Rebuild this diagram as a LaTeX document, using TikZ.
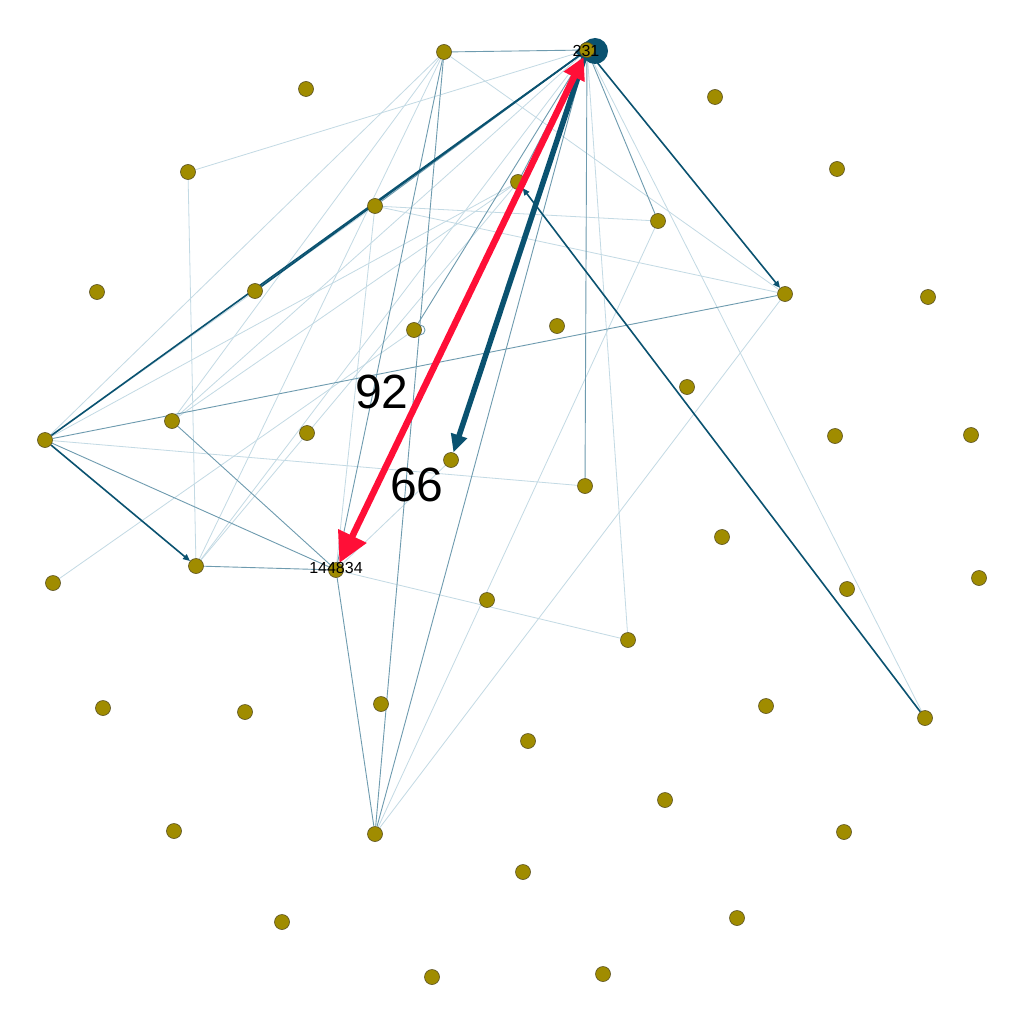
\documentclass[tikz,border=0pt]{standalone}
\usepackage{fontspec}
\setmainfont{Liberation Sans}
\usetikzlibrary{arrows.meta}
\pgfdeclarelayer{bg}
\pgfdeclarelayer{fg}
\pgfsetlayers{bg,main,fg}
\definecolor{dk}{RGB}{10,82,112}
\definecolor{md}{RGB}{110,155,175}
\definecolor{lt}{RGB}{195,218,228}
\definecolor{rd}{RGB}{255,15,55}
\definecolor{olive}{RGB}{160,140,0}
\definecolor{olivedk}{RGB}{90,80,30}
\tikzset{
  vtx/.style={circle,fill=olive,draw=olivedk,line width=0.6pt,minimum size=15pt,inner sep=0pt},
  dkedge/.style={draw=dk,line width=1.6pt},
  mdedge/.style={draw=md,line width=0.9pt},
  ltedge/.style={draw=lt,line width=0.8pt},
  smallarr/.style={-{Triangle[length=7pt,width=6pt]}},
  lbl/.style={font=\fontsize{16}{16}\selectfont,inner sep=0pt},
  biglbl/.style={font=\fontsize{48}{48}\selectfont,inner sep=0pt}
}
\begin{document}
\begin{tikzpicture}[x=1pt,y=-1pt]
\begin{pgfonlayer}{bg}
\fill[white] (0,0) rectangle (1024,1024);
\end{pgfonlayer}
\useasboundingbox (0,0) rectangle (1024,1024);
% nodes
\node[vtx] (A) at (587,50) {};
\node[vtx] (B) at (444,52) {};
\node[vtx] (C) at (306,89) {};
\node[vtx] (D) at (715,97) {};
\node[vtx] (E) at (188,172) {};
\node[vtx] (F) at (837,169) {};
\node[vtx] (G) at (518,182) {};
\node[vtx] (H) at (375,206) {};
\node[vtx] (I) at (658,221) {};
\node[vtx] (J) at (97,292) {};
\node[vtx] (K) at (255,291) {};
\node[vtx] (L) at (785,294) {};
\node[vtx] (M) at (928,297) {};
\node[vtx] (N) at (414,330) {};
\node[vtx] (O) at (557,326) {};
\node[vtx] (P) at (687,387) {};
\node[vtx] (Q) at (172,421) {};
\node[vtx] (R) at (307,433) {};
\node[vtx] (S) at (45,440) {};
\node[vtx] (T) at (835,436) {};
\node[vtx] (U) at (971,435) {};
\node[vtx] (V) at (451,460) {};
\node[vtx] (W) at (585,486) {};
\node[vtx] (X) at (722,537) {};
\node[vtx] (Y) at (196,566) {};
\node[vtx] (Z) at (336,570) {};
\node[vtx] (a) at (53,583) {};
\node[vtx] (b) at (847,589) {};
\node[vtx] (c) at (979,578) {};
\node[vtx] (d) at (487,600) {};
\node[vtx] (e) at (628,640) {};
\node[vtx] (f) at (103,708) {};
\node[vtx] (g) at (245,712) {};
\node[vtx] (h) at (381,704) {};
\node[vtx] (i) at (766,706) {};
\node[vtx] (j) at (925,718) {};
\node[vtx] (k) at (528,741) {};
\node[vtx] (l) at (665,800) {};
\node[vtx] (m) at (174,831) {};
\node[vtx] (n) at (375,834) {};
\node[vtx] (o) at (844,832) {};
\node[vtx] (p) at (523,872) {};
\node[vtx] (q) at (282,922) {};
\node[vtx] (r) at (737,918) {};
\node[vtx] (s) at (432,977) {};
\node[vtx] (t) at (603,974) {};
\begin{pgfonlayer}{bg}
% light edges
\path[ltedge] (E) -- (A);
\path[ltedge] (E) -- (Y);
\path[ltedge] (B) -- (L);
\path[ltedge] (B) -- (S);
\path[ltedge] (B) -- (Q);
\path[ltedge] (B) -- (Y);
\path[ltedge] (H) -- (I);
\path[ltedge] (H) -- (L);
\path[ltedge] (H) -- (Z);
\path[ltedge] (S) -- (G);
\path[ltedge] (S) -- (H);
\path[ltedge] (S) -- (W);
\path[ltedge] (Q) -- (G);
\path[ltedge] (Q) -- (A);
\path[ltedge] (G) -- (Y);
\path[ltedge] (V) -- (Z);
\path[ltedge] (Z) -- (e);
\path[ltedge] (e) -- (A);
\path[ltedge] (A) -- (j);
\path[ltedge] (n) -- (I);
\path[ltedge] (n) -- (L);
\path[ltedge] (a) -- (N);
\path[ltedge] (Y) -- (A);
% medium edges
\path[mdedge] (B) -- (A);
\path[mdedge] (B) -- (Z);
\path[mdedge] (S) -- (L);
\path[mdedge] (S) -- (Z);
\path[mdedge] (Q) -- (Z);
\path[mdedge] (I) -- (A);
\path[mdedge] (W) -- (A);
\path[mdedge] (N) -- (A);
\path[mdedge] (H) -- (A);
\path[mdedge] (G) -- (A);
\path[mdedge] (n) -- (A);
\path[mdedge] (n) -- (B);
\path[mdedge] (Z) -- (n);
\path[mdedge] (Y) -- (Z);
\draw[mdedge] ([xshift=6pt]N.center) circle (5pt);
% dark edges
\path[dkedge] (S) -- (A);
\path[dkedge] (K) -- (A);
\path[dkedge,smallarr] (A) -- (L);
\path[dkedge,smallarr] (S) -- (Y);
\path[dkedge,smallarr] (j) -- (G);
\end{pgfonlayer}
% self loop on hub
\fill[dk] ([xshift=8pt,yshift=-1pt]A.center) circle (13pt);
\fill[dk] ([xshift=-12pt,yshift=-2pt]A.center) -- ([xshift=-2pt,yshift=-11pt]A.center) -- ([xshift=-2pt,yshift=8pt]A.center) -- cycle;
\node[vtx] at (A) {};
% heavy edges
\begin{pgfonlayer}{fg}
\draw[draw=dk,line width=5.5pt,-{Triangle[length=18pt,width=16pt]}] (A) -- (V);
\draw[draw=rd,line width=6.5pt,{Triangle[length=22pt,width=22pt]}-{Triangle[length=30pt,width=30pt]}] (A) -- (Z);
\node[lbl] (lA) at (586,51) {231};
\node[lbl] (lZ) at (336,568) {144834};
\node[biglbl] (l92) at (382,392) {92};
\node[biglbl] (l66) at (417,485) {66};
\end{pgfonlayer}
\end{tikzpicture}
\end{document}
